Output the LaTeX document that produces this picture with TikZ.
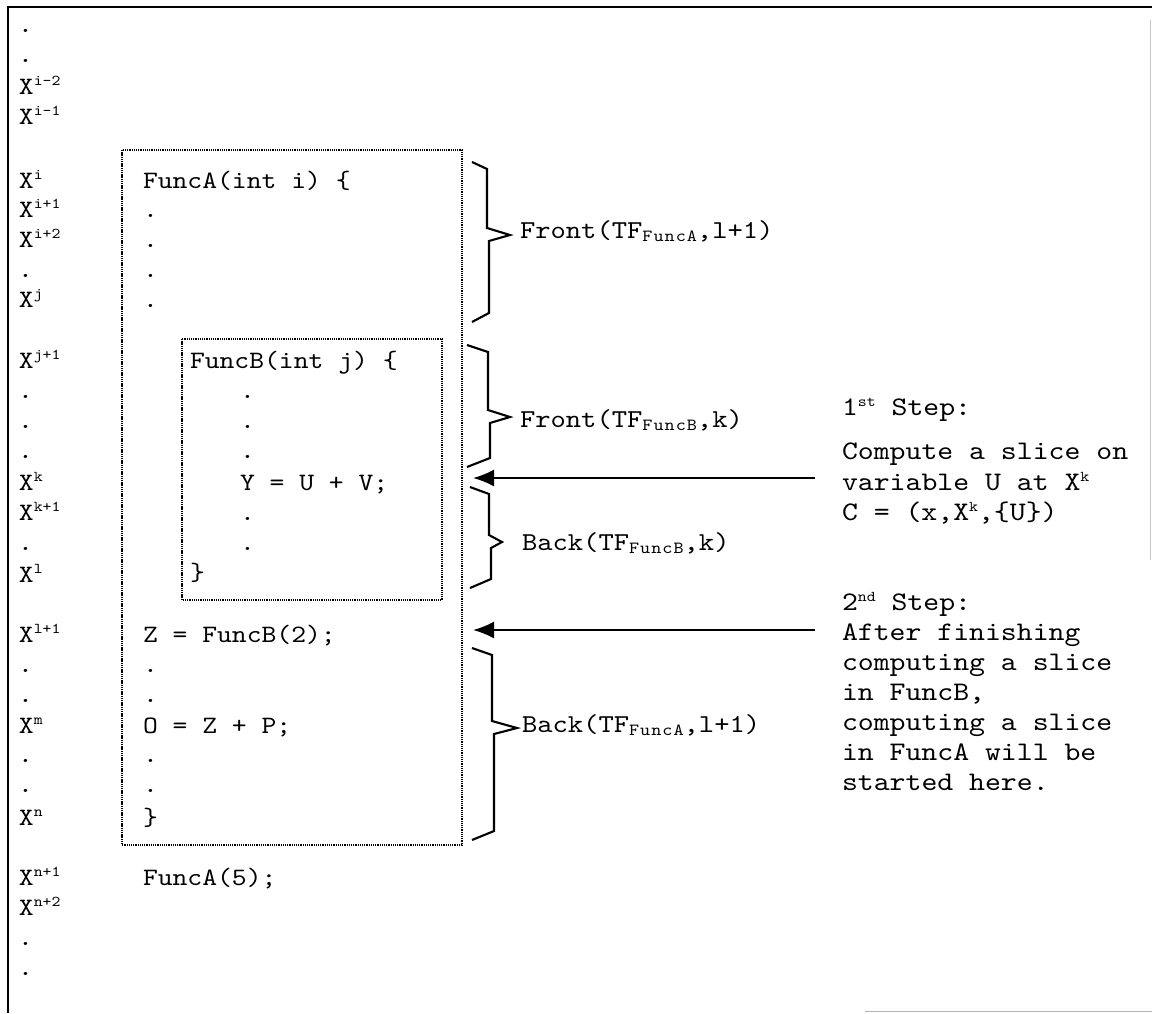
\documentclass[tikz,border=0pt]{standalone}
\usepackage{fontspec}
\setmainfont{Liberation Mono}
\newfontfamily\cmono[FakeStretch=1.13]{lmmono10-regular.otf}
\usetikzlibrary{arrows.meta}
\newcommand\upx[1]{\raisebox{9pt}{\fontsize{15}{15}\selectfont #1}}
\newcommand\dnx[1]{\raisebox{-3pt}{\fontsize{17}{17}\selectfont\addfontfeature{LetterSpace=6}#1}}
\newcommand\mybrace[6]{% x0, x1, top, bottom, tip y, tip x
  \draw[brc] (#1,#3) -- (#2,#3+7) -- (#2,#5-7) -- (#6,#5) -- (#2+2,#5+6) -- (#2+2,#4-9) -- (#1,#4);}
\tikzset{
  txt/.style={anchor=base west, inner sep=0pt, outer sep=0pt, font=\cmono\fontsize{25}{30}\selectfont},
  lbl/.style={anchor=base west, inner sep=0pt, outer sep=0pt, font=\cmono\fontsize{25.8}{30}\selectfont},
  stp/.style={anchor=base west, inner sep=0pt, outer sep=0pt, font=\cmono\fontsize{26.8}{30}\selectfont},
  frame/.style={line width=2.4pt, black},
  dotbox/.style={line width=1.7pt, dash pattern=on 1.3pt off 0.9pt},
  brc/.style={line width=2.1pt, line join=miter},
  arr/.style={line width=2pt, -{Latex[length=21pt,width=17pt]}}
}
\begin{document}
\begin{tikzpicture}[x=1pt,y=-1pt]
\useasboundingbox (0,0) rectangle (1152,1013);
% frame
\draw[frame] (8,1013) -- (8,7) -- (1152,7);
\draw[gray!45, line width=1pt] (1150,20) -- (1150,560);
\draw[gray!60, line width=1.2pt] (865,1011.5) -- (1152,1011.5);
% left column
\node[txt] (l1) at (18,32) {.};
\node[txt] (l2) at (18,62) {.};
\node[txt] (l3) at (19,94) {X\upx{i-2}};
\node[txt] (l4) at (19,124) {X\upx{i-1}};
\node[txt] (l5) at (19,188) {X\upx{i}};
\node[txt] (l6) at (19,217) {X\upx{i+1}};
\node[txt] (l7) at (19,247) {X\upx{i+2}};
\node[txt] (l8) at (18,277) {.};
\node[txt] (l9) at (19,307) {X\upx{j}};
\node[txt] (l10) at (19,368) {X\upx{j+1}};
\node[txt] (l11) at (18,398) {.};
\node[txt] (l12) at (18,428) {.};
\node[txt] (l13) at (18,458) {.};
\node[txt] (l14) at (19,490) {X\upx{k}};
\node[txt] (l15) at (19,520) {X\upx{k+1}};
\node[txt] (l16) at (18,550) {.};
\node[txt] (l17) at (19,582) {X\upx{l}};
\node[txt] (l18) at (19,642) {X\upx{l+1}};
\node[txt] (l19) at (18,672) {.};
\node[txt] (l20) at (18,702) {.};
\node[txt] (l21) at (19,733) {X\upx{m}};
\node[txt] (l22) at (18,762) {.};
\node[txt] (l23) at (18,792) {.};
\node[txt] (l24) at (19,825) {X\upx{n}};
\node[txt] (l25) at (19,885) {X\upx{n+1}};
\node[txt] (l26) at (19,915) {X\upx{n+2}};
\node[txt] (l27) at (18,945) {.};
\node[txt] (l28) at (18,975) {.};
% boxes
\draw[dotbox] (122,150) rectangle (462,845);
\draw[dotbox] (182,339) rectangle (442,600);
% code
\node[txt] (c1) at (143,188) {FuncA(int i) \{};
\node[txt] (c2) at (143,217) {.};
\node[txt] (c3) at (143,247) {.};
\node[txt] (c4) at (143,277) {.};
\node[txt] (c5) at (143,307) {.};
\node[txt] (b1) at (190,368) {FuncB(int j) \{};
\node[txt] (b2) at (240,398) {.};
\node[txt] (b3) at (240,428) {.};
\node[txt] (b4) at (240,458) {.};
\node[txt] (b5) at (240,490) {Y = U + V;};
\node[txt] (b6) at (240,520) {.};
\node[txt] (b7) at (240,550) {.};
\node[txt] (b8) at (190,580) {\}};
\node[txt] (c6) at (143,642) {Z = FuncB(2);};
\node[txt] (c7) at (143,672) {.};
\node[txt] (c8) at (143,702) {.};
\node[txt] (c9) at (143,733) {O = Z + P;};
\node[txt] (c10) at (143,762) {.};
\node[txt] (c11) at (143,792) {.};
\node[txt] (c12) at (143,825) {\}};
\node[txt] (c13) at (143,885) {FuncA(5);};
% braces
\mybrace{472}{487}{162}{322}{235}{510}
\mybrace{467}{488}{345}{467}{417}{510}
\mybrace{470}{489}{487}{588}{542}{502}
\mybrace{472}{492}{648}{840}{728}{517}
\node[lbl] (f1) at (520,238) {Front(TF\dnx{FuncA},l+1)};
\node[lbl] (f2) at (520,427) {Front(TF\dnx{FuncB},k)};
\node[lbl] (k1) at (522,550) {Back(TF\dnx{FuncB},k)};
\node[lbl] (k2) at (522,732) {Back(TF\dnx{FuncA},l+1)};
% steps
\node[stp] (s1) at (842,415) {1\upx{st} Step:};
\node[stp] (s2) at (842,459) {Compute a slice on};
\node[stp] (s3) at (842,490) {variable U at X\upx{k}};
\node[stp] (s4) at (842,520) {C = (x,X\upx{k},\{U\})};
\node[stp] (t1) at (842,610) {2\upx{nd} Step:};
\node[stp] (t2) at (842,640) {After finishing};
\node[stp] (t3) at (842,670) {computing a slice};
\node[stp] (t4) at (842,700) {in FuncB,};
\node[stp] (t5) at (842,730) {computing a slice};
\node[stp] (t6) at (842,760) {in FuncA will be};
\node[stp] (t7) at (842,790) {started here.};
% arrows
\coordinate (a1s) at (815,478);
\coordinate (a1e) at (473,478);
\coordinate (a2s) at (815,630);
\coordinate (a2e) at (473,630);
\draw[arr] (a1s) -- (a1e);
\draw[arr] (a2s) -- (a2e);
\end{tikzpicture}
\end{document}
